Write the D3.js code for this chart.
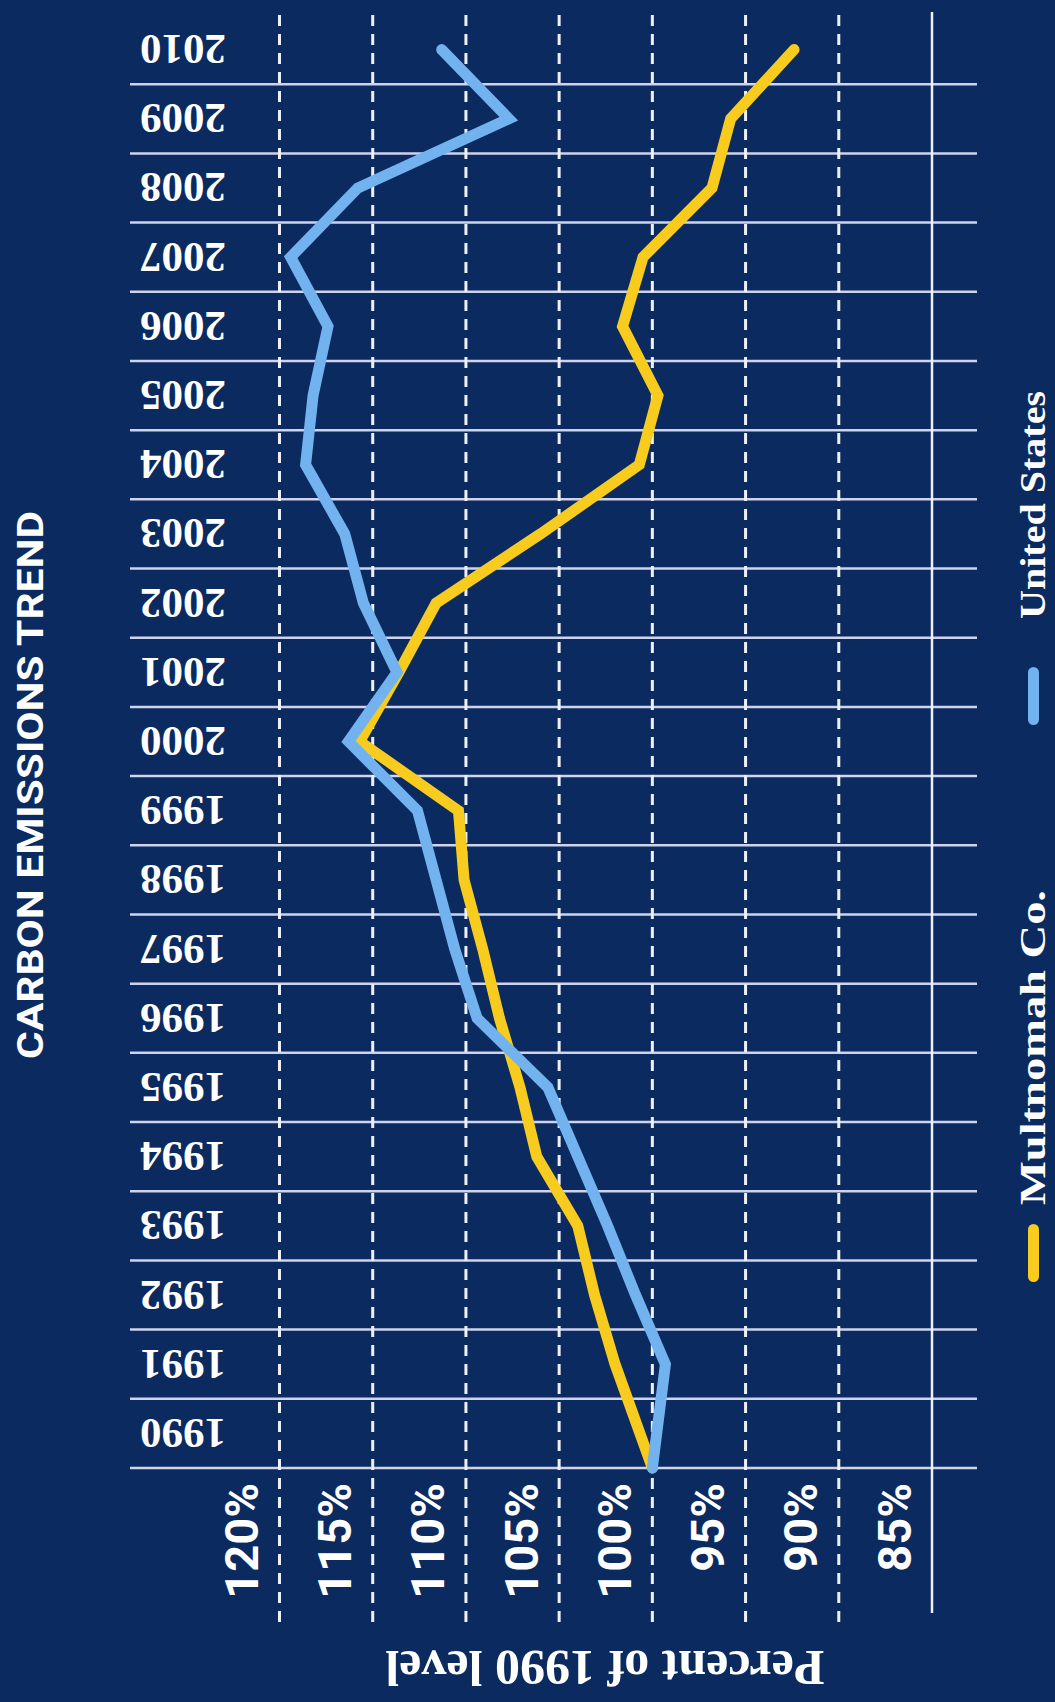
<!DOCTYPE html>
<meta charset="utf-8">
<style>
  body { margin: 0; background: #0b2a60; }
</style>
<svg width="1055" height="1702"></svg>
<script src="https://d3js.org/d3.v7.min.js"></script>
<script>

// data (percent of 1990 level)
var years = d3.range(1990, 2011);
var usValues = [100, 99.3, 100.9, 102.4, 104.0, 105.6, 109.4, 110.6, 111.6, 112.6, 116.3,
                113.7, 115.5, 116.5, 118.6, 118.2, 117.4, 119.4, 115.8, 107.7, 111.3];
var multValues = [100, 102.0, 103.1, 104.0, 106.2, 107.1, 108.2, 109.1, 110.1, 110.4, 115.7,
                  113.6, 111.6, 106.0, 100.7, 99.7, 101.6, 100.5, 96.8, 95.8, 92.4];
var pctTicks = [120, 115, 110, 105, 100, 95, 90, 85];
var seriesNames = ["Multnomah Co.", "United States"];

var svg = d3.select("svg"),
    width = +svg.attr("width"),
    height = +svg.attr("height");

svg.append("rect").attr("width", width).attr("height", height).attr("fill", "#0b2a60");

var x = d3.scaleLinear().domain([120, 85]).range([279.5, 932]);
var y = d3.scaleBand().domain(years.slice().reverse()).range([15, 1468]);
var bw = y.bandwidth();

// first year sits on the baseline, the rest in the middle of their band
function yPos(yr) { return yr === years[0] ? y(yr) + bw : y(yr) + bw / 2; }

// horizontal year rules
svg.append("g")
  .selectAll("line")
  .data(years)
  .enter().append("line")
    .attr("x1", 130).attr("x2", 977)
    .attr("y1", function(d) { return y(d) + bw; })
    .attr("y2", function(d) { return y(d) + bw; })
    .attr("stroke", "#cfd3ec")
    .attr("stroke-width", 2.5);

// vertical percent rules
svg.append("g")
  .selectAll("line")
  .data(pctTicks)
  .enter().append("line")
    .attr("x1", function(d) { return x(d); })
    .attr("x2", function(d) { return x(d); })
    .attr("y1", function(d) { return d === 85 ? 12 : 15; })
    .attr("y2", function(d) { return d === 85 ? 1613 : 1622; })
    .attr("stroke", "#eef0f7")
    .attr("stroke-width", function(d) { return d === 85 ? 2.5 : 3; })
    .attr("stroke-dasharray", function(d) { return d === 85 ? null : "11,8"; });

// year labels, upside down
svg.append("g")
  .selectAll("text")
  .data(years)
  .enter().append("text")
    .attr("transform", function(d) { return "translate(183," + (y(d) + bw / 2) + ") rotate(180)"; })
    .attr("text-anchor", "middle")
    .attr("dominant-baseline", "central")
    .attr("font-family", "'Liberation Serif', serif")
    .attr("font-weight", "bold")
    .attr("font-size", 43)
    .attr("fill", "#ffffff")
    .text(function(d) { return d; });

// percent labels, reading upward
svg.append("g")
  .selectAll("text")
  .data(pctTicks)
  .enter().append("text")
    .attr("transform", function(d) { return "translate(" + (x(d) - 38) + ",1483) rotate(-90)"; })
    .attr("text-anchor", "end")
    .attr("dominant-baseline", "central")
    .attr("font-family", "Roboto, sans-serif")
    .attr("font-weight", "bold")
    .attr("font-size", 47)
    .attr("fill", "#ffffff")
    .text(function(d) { return d + "%"; });

// axis title, upside down
svg.append("text")
  .attr("transform", "translate(605,1668) rotate(180)")
  .attr("text-anchor", "middle")
  .attr("dominant-baseline", "central")
  .attr("font-family", "'Liberation Serif', serif")
  .attr("font-weight", "bold")
  .attr("font-size", 50)
  .attr("fill", "#ffffff")
  .text("Percent of 1990 level");

// chart title
svg.append("text")
  .attr("transform", "translate(30,785) rotate(-90)")
  .attr("text-anchor", "middle")
  .attr("dominant-baseline", "central")
  .attr("font-family", "Roboto, sans-serif")
  .attr("font-weight", "bold")
  .attr("font-size", 37)
  .attr("textLength", 548)
  .attr("lengthAdjust", "spacingAndGlyphs")
  .attr("fill", "#ffffff")
  .text("CARBON EMISSIONS TREND");

// lines
var line = d3.line()
  .x(function(d) { return x(d.v); })
  .y(function(d) { return yPos(d.yr); });

var series = [
  { name: seriesNames[0], color: "#f7cc1e", values: multValues },
  { name: seriesNames[1], color: "#72b2ee", values: usValues }
];

svg.append("g")
  .selectAll("path")
  .data(series)
  .enter().append("path")
    .attr("d", function(s) {
      return line(s.values.map(function(v, i) { return { yr: years[i], v: v }; }));
    })
    .attr("fill", "none")
    .attr("stroke", function(s) { return s.color; })
    .attr("stroke-width", 11)
    .attr("stroke-linejoin", "miter")
    .attr("stroke-linecap", "round");

// legend
var legendPos = [
  { swatch: 1224, text: 1205, len: 315 },
  { swatch: 667, text: 619, len: 228 }
];

var legend = svg.append("g")
  .selectAll("g")
  .data(series)
  .enter().append("g");

legend.append("rect")
  .attr("x", 1028)
  .attr("y", function(d, i) { return legendPos[i].swatch; })
  .attr("width", 11)
  .attr("height", 58)
  .attr("rx", 5.5)
  .attr("fill", function(d) { return d.color; });

legend.append("text")
  .attr("transform", function(d, i) { return "translate(1033," + legendPos[i].text + ") rotate(-90)"; })
  .attr("text-anchor", "start")
  .attr("dominant-baseline", "central")
  .attr("font-family", "'Liberation Serif', serif")
  .attr("font-weight", "bold")
  .attr("font-size", 35)
  .attr("textLength", function(d, i) { return legendPos[i].len; })
  .attr("lengthAdjust", "spacingAndGlyphs")
  .attr("fill", "#ffffff")
  .text(function(d) { return d.name; });

</script>
